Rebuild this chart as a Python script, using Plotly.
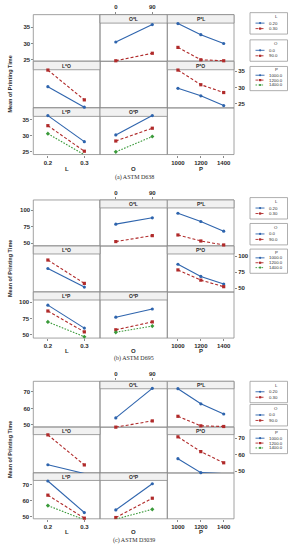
import plotly.graph_objects as go

W, H = 292, 550

# ---------------- data ----------------
L_LEVELS = [0.2, 0.3]
O_LEVELS = [0, 90]
P_LEVELS = [1000, 1200, 1400]
L_LABELS = ["0.20", "0.30"]
O_LABELS = ["0.0", "90.0"]
P_LABELS = ["1000.0", "1200.0", "1400.0"]
L_TICKS = ["0.2", "0.3"]
O_TICKS = ["0", "90"]
P_TICKS = ["1000", "1200", "1400"]

CAPTIONS = ["(a) ASTM D638", "(b) ASTM D695", "(c) ASTM D3039"]
Y_TICKS = [[25, 30, 35], [50, 75, 100], [50, 60, 70]]

# (a) ASTM D638 -- each inner list is one line (level of the trace factor)
A_OL = [[30.45, 35.8], [24.7, 27.0]]
A_PL = [[36.1, 32.7, 30.0], [28.8, 25.0, 24.7]]
A_LO = [[30.3, 24.0], [35.4, 26.25]]
A_PO = [[29.8, 27.5, 24.5], [35.4, 30.9, 28.5]]
A_LP = [[36.25, 28.1], [33.1, 25.1], [30.6, 24.0]]
A_OP = [[30.2, 36.25], [28.3, 32.3], [24.9, 29.7]]

# (b) ASTM D695
B_OL = [[79.0, 88.6], [52.6, 61.6]]
B_PL = [[95.5, 83.0, 68.4], [62.6, 53.5, 47.5]]
B_LO = [[80.7, 52.0], [93.8, 57.7]]
B_PO = [[87.3, 68.4, 56.6], [78.5, 62.7, 52.6]]
B_LP = [[95.5, 60.3], [86.5, 54.5], [69.8, 47.0]]
B_OP = [[77.0, 89.6], [57.7, 69.8], [53.8, 63.4]]

# (c) ASTM D3039
C_OL = [[54.2, 72.2], [48.6, 52.4]]
C_PL = [[72.0, 62.8, 56.6], [55.2, 49.4, 49.0]]
C_LO = [[53.8, 48.5], [72.0, 53.7]]
C_PO = [[57.5, 49.0, 48.4], [70.8, 61.8, 55.0]]
C_LP = [[72.3, 52.7], [63.5, 49.2], [57.0, 48.2]]
C_OP = [[54.3, 70.6], [49.6, 61.6], [48.6, 54.7]]

GROUP_DATA = [
    {"OL": A_OL, "PL": A_PL, "LO": A_LO, "PO": A_PO, "LP": A_LP, "OP": A_OP},
    {"OL": B_OL, "PL": B_PL, "LO": B_LO, "PO": B_PO, "LP": B_LP, "OP": B_OP},
    {"OL": C_OL, "PL": C_PL, "LO": C_LO, "PO": C_PO, "LP": C_LP, "OP": C_OP},
]

# ---------------- layout / style ----------------
LEVELS = {"L": L_LEVELS, "O": O_LEVELS, "P": P_LEVELS}
LABELS = {"L": L_LABELS, "O": O_LABELS, "P": P_LABELS}
TICKS = {"L": L_TICKS, "O": O_TICKS, "P": P_TICKS}
XRANGE = {"L": [0.16, 0.343], "O": [-39, 127], "P": [907, 1490]}

GROUP_TOP = [14.7, 200.7, 382.7]
ROW_H = [46.8, 46.2, 46.0]
STRIP_H = [8.5, 8.0, 7.5]
COL_X = [33.3, 100.0, 167.3, 234.0]
YRANGE = [
    [[24.54, 38.85], [23.78, 38.1], [24.06, 38.66]],
    [[45.9, 115.6], [44.3, 115.5], [45.0, 115.6]],
    [[48.6, 76.5], [48.8, 76.7], [48.8, 77.3]],
]
LEG_TOPS = [[12.7, 40.0, 66.7], [198.3, 224.3, 250.0], [382.7, 406.0, 431.0]]
AXTITLE_Y = [170.0, 352.5, 534.0]
CAPTION_Y = [177.8, 360.0, 542.3]
TICK_STANDOFF = [0, 0, 0]

PANELS = [(0, 1, "O", "L"), (0, 2, "P", "L"), (1, 0, "L", "O"),
          (1, 2, "P", "O"), (2, 0, "L", "P"), (2, 1, "O", "P")]

COLORS = ["#2e64ad", "#b02a2a", "#3a9a3a"]
DASHES = ["solid", "3px,2px", "1.6px,1.4px"]
SYMBOLS = ["circle", "square", "diamond"]
FRAME = "#8a8a8a"
TXT = "#2b2b2b"
SANS = "Liberation Sans"


def fx(x):
    return x / W


def fy(y):
    return 1 - y / H


fig = go.Figure()
shapes = []
annotations = []
layout_axes = {}

tickfont = dict(family=SANS, size=6, color=TXT, weight="bold")

n = 0
for g in range(3):
    top = GROUP_TOP[g]
    rh = ROW_H[g]
    bottom = top + 3 * rh
    # cell frames
    for r in range(3):
        for c in range(3):
            shapes.append(dict(type="rect", xref="paper", yref="paper",
                               x0=fx(COL_X[c]), x1=fx(COL_X[c + 1]),
                               y0=fy(top + (r + 1) * rh), y1=fy(top + r * rh),
                               line=dict(color=FRAME, width=0.8), layer="below"))
    for (r, c, xf, lf) in PANELS:
        n += 1
        data = GROUP_DATA[g][xf + lf]
        y0 = top + r * rh
        y1 = y0 + rh
        # strip header
        shapes.append(dict(type="rect", xref="paper", yref="paper",
                           x0=fx(COL_X[c]), x1=fx(COL_X[c + 1]),
                           y0=fy(y0 + STRIP_H[g]), y1=fy(y0),
                           fillcolor="#f1f1f1",
                           line=dict(color=FRAME, width=0.8), layer="below"))
        annotations.append(dict(xref="paper", yref="paper",
                                x=fx((COL_X[c] + COL_X[c + 1]) / 2),
                                y=fy(y0 + STRIP_H[g] / 2), text=f"{xf}*{lf}",
                                showarrow=False, xanchor="center", yanchor="middle",
                                font=dict(family=SANS, size=5, color=TXT, weight="bold")))
        xa = dict(domain=[fx(COL_X[c]), fx(COL_X[c + 1])], range=XRANGE[xf],
                  anchor=f"y{n}", visible=False, showgrid=False, zeroline=False,
                  fixedrange=True)
        ya = dict(domain=[fy(y1), fy(y0)], range=YRANGE[g][r], anchor=f"x{n}",
                  visible=False, showgrid=False, zeroline=False, fixedrange=True)
        tickcommon = dict(visible=True, showline=False, ticks="outside", ticklen=2,
                          tickwidth=0.8, tickcolor=FRAME, tickfont=tickfont,
                          showticklabels=True)
        if (r, c) == (0, 1):
            ya.update(tickcommon, anchor="free", position=fx(COL_X[0]), side="left",
                      tickvals=Y_TICKS[g])
            xa.update(tickcommon, side="top", tickvals=LEVELS["O"], ticktext=TICKS["O"])
        if (r, c) == (1, 2):
            ya.update(tickcommon, side="right", tickvals=Y_TICKS[g])
            xa.update(tickcommon, anchor="free", position=fy(bottom), side="bottom",
                      tickvals=LEVELS["P"], ticktext=TICKS["P"],
                      ticklabelstandoff=TICK_STANDOFF[g])
        if (r, c) == (2, 0):
            ya.update(tickcommon, side="left", tickvals=Y_TICKS[g])
            xa.update(tickcommon, side="bottom", tickvals=LEVELS["L"], ticktext=TICKS["L"],
                      ticklabelstandoff=TICK_STANDOFF[g])
        layout_axes[f"xaxis{n}"] = xa
        layout_axes[f"yaxis{n}"] = ya
        for i, series in enumerate(data):
            fig.add_trace(go.Scatter(
                x=LEVELS[xf], y=series, mode="lines+markers",
                xaxis=f"x{n}", yaxis=f"y{n}", showlegend=False, cliponaxis=False,
                line=dict(color=COLORS[i], width=1.1, dash=DASHES[i]),
                marker=dict(color=COLORS[i], symbol=SYMBOLS[i], size=3.2,
                            line=dict(width=0)),
                hoverinfo="skip"))

    # axis titles
    for c, name in enumerate(["L", "O", "P"]):
        annotations.append(dict(xref="paper", yref="paper",
                                x=fx((COL_X[c] + COL_X[c + 1]) / 2), y=fy(AXTITLE_Y[g]),
                                text=name, showarrow=False, xanchor="center",
                                yanchor="middle",
                                font=dict(family=SANS, size=6, color=TXT, weight="bold")))
    annotations.append(dict(xref="paper", yref="paper", x=fx(10), y=fy((top + bottom) / 2),
                            text="Mean of Printing Time", textangle=-90, showarrow=False,
                            xanchor="center", yanchor="middle",
                            font=dict(family=SANS, size=5.5, color=TXT, weight="bold")))
    annotations.append(dict(xref="paper", yref="paper", x=fx(134), y=fy(CAPTION_Y[g]),
                            text=CAPTIONS[g], showarrow=False, xanchor="center",
                            yanchor="middle",
                            font=dict(family="Liberation Serif", size=6, color=TXT)))

    # legend boxes
    for k, fac in enumerate(["L", "O", "P"]):
        labs = LABELS[fac]
        m = len(labs)
        lt = LEG_TOPS[g][k]
        bh = 21.5 if m == 2 else 24.3
        first = 10.5 if m == 2 else 8.8
        step = 5.5 if m == 2 else 4.9
        shapes.append(dict(type="rect", xref="paper", yref="paper",
                           x0=fx(250), x1=fx(287.5), y0=fy(lt + bh), y1=fy(lt),
                           line=dict(color="#9a9a9a", width=0.8), fillcolor="white",
                           layer="below"))
        annotations.append(dict(xref="paper", yref="paper", x=fx(276),
                                y=fy(lt + (4 if m == 2 else 3.5)), text=fac,
                                showarrow=False, xanchor="center", yanchor="middle",
                                font=dict(family=SANS, size=4.3, color=TXT)))
        for i, lab in enumerate(labs):
            ey = lt + first + step * i
            shapes.append(dict(type="line", xref="paper", yref="paper",
                               x0=fx(255.5), x1=fx(264.5), y0=fy(ey), y1=fy(ey),
                               line=dict(color=COLORS[i], width=0.9,
                                         dash=DASHES[i])))
            shapes.append(dict(type="circle" if i != 1 else "rect",
                               xref="paper", yref="paper",
                               x0=fx(259.0), x1=fx(261.2), y0=fy(ey + 1.1), y1=fy(ey - 1.1),
                               fillcolor=COLORS[i], line=dict(width=0)))
            annotations.append(dict(xref="paper", yref="paper", x=fx(266.5), y=fy(ey),
                                    text=lab, showarrow=False, xanchor="left",
                                    yanchor="middle",
                                    font=dict(family=SANS, size=4.3, color=TXT)))

fig.update_layout(
    width=W, height=H, margin=dict(l=0, r=0, t=0, b=0),
    paper_bgcolor="white", plot_bgcolor="rgba(0,0,0,0)",
    showlegend=False, shapes=shapes, annotations=annotations,
    **layout_axes,
)

fig.write_html(
    "out.html",
    config={"responsive": False, "displayModeBar": False},
    post_script="document.body.style.margin='0';document.body.style.overflow='hidden';",
)
